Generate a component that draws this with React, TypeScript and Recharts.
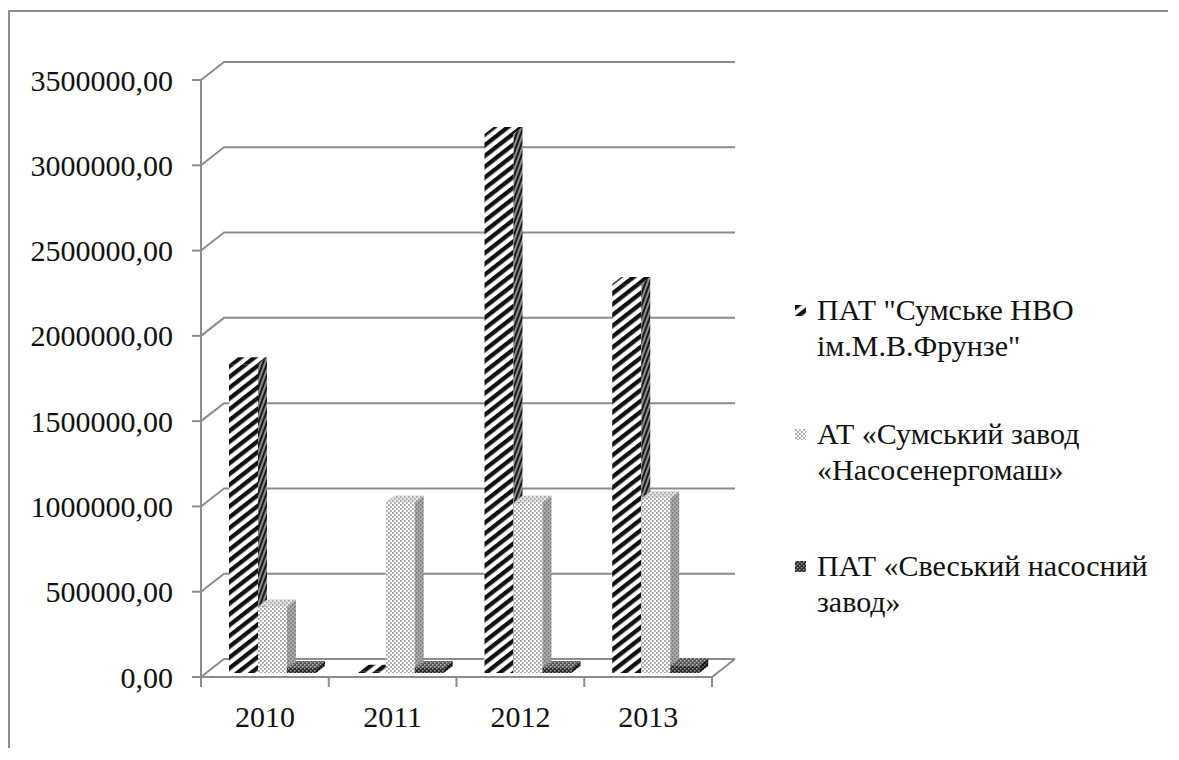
import React from 'react';
import { BarChart, Bar, XAxis, YAxis, Legend, CartesianGrid } from 'recharts';

// ---------- data ----------
const CATEGORIES = ['2010', '2011', '2012', '2013'];
const SERIES_KEYS = ['s1', 's2', 's3'];
const SERIES_NAMES = [
  'ПАТ "Сумське НВО ім.М.В.Фрунзе"',
  'АТ «Сумський завод «Насосенергомаш»',
  'ПАТ «Свеський насосний завод»',
];
const FRUNZE = [1810000, 8000, 3160000, 2280000];
const NASOS = [390000, 1000000, 1000000, 1025000];
const SVES = [30000, 30000, 30000, 45000];
const Y_TICKS = [0, 500000, 1000000, 1500000, 2000000, 2500000, 3000000, 3500000];

const data = CATEGORIES.map((year, i) => ({
  year,
  s1: FRUNZE[i],
  s2: NASOS[i],
  s3: SVES[i],
}));

// ---------- layout / style ----------
const W = 1160;
const H = 740;
const AX = 193; // front y-axis x
const PT = 72; // plot top
const PB = 669; // plot bottom
const PW = 511; // plot width
const DX = 23; // wall depth offset
const DY = 18;
const BDX = 9; // bar depth
const BDY = 7;
const SX = 8; // bar shift into depth
const SY = -4;
const GRID = '#8c8c8c';
const FONT = "'Liberation Serif', 'Times New Roman', Times, Tinos, 'DejaVu Serif', serif";
const AXIS_FS = 30;
const LEGEND_FS = 30;

const fmt = (v: number) => v.toFixed(2).replace('.', ',');

const PATTERNS = [
  { front: 'url(#hatch)', side: 'url(#hatchSide)', top: 'url(#hatch)' },
  { front: 'url(#dots)', side: 'url(#dotsSide)', top: 'url(#dotsTop)' },
  { front: 'url(#dark)', side: 'url(#darkSide)', top: 'url(#darkTop)' },
];

const makeShape = (p: { front: string; side: string; top: string }) => (props: any) => {
  const { x, y, width, height } = props;
  if (x == null || y == null) return null;
  const x0 = x + SX;
  const y0 = y + SY;
  const w = width;
  const h = Math.max(height, 0);
  return (
    <g>
      <rect x={x0} y={y0} width={w} height={h} fill={p.front} />
      <polygon
        points={`${x0 + w},${y0} ${x0 + w + BDX},${y0 - BDY} ${x0 + w + BDX},${y0 + h - BDY} ${x0 + w},${y0 + h}`}
        fill={p.side}
      />
      <polygon
        points={`${x0},${y0} ${x0 + w},${y0} ${x0 + w + BDX},${y0 - BDY} ${x0 + BDX},${y0 - BDY}`}
        fill={p.top}
      />
    </g>
  );
};

const GridLine = (props: any) => {
  const { x1, y1, x2 } = props;
  const isBottom = Math.abs(y1 - PB) < 1;
  return (
    <g>
      <polyline
        points={`${x1},${y1} ${x1 + DX},${y1 - DY} ${x2 + DX},${y1 - DY}`}
        fill="none"
        stroke={GRID}
        strokeWidth={2}
      />
      {isBottom && (
        <line x1={x2} y1={y1} x2={x2 + DX} y2={y1 - DY} stroke={GRID} strokeWidth={2} />
      )}
    </g>
  );
};

const YTick = (props: any) => {
  const { y, payload } = props;
  return (
    <g>
      <line x1={AX - 9} y1={y} x2={AX} y2={y} stroke={GRID} strokeWidth={2} />
      <text
        x={AX - 28}
        y={y}
        textAnchor="end"
        dominantBaseline="central"
        fontSize={AXIS_FS}
        fontFamily={FONT}
        fill="#111"
      >
        {fmt(payload.value)}
      </text>
    </g>
  );
};

const XTick = (props: any) => {
  const { x, payload, index } = props;
  const half = payload.offset || PW / 8;
  return (
    <g>
      {index === 0 && (
        <line x1={x - half} y1={PB} x2={x - half} y2={PB + 10} stroke={GRID} strokeWidth={2} />
      )}
      <line x1={x + half} y1={PB} x2={x + half} y2={PB + 10} stroke={GRID} strokeWidth={2} />
      <text
        x={x}
        y={PB + 39}
        textAnchor="middle"
        dominantBaseline="central"
        fontSize={AXIS_FS}
        fontFamily={FONT}
        fill="#111"
      >
        {payload.value}
      </text>
    </g>
  );
};

const renderLegend = (props: any) => {
  const payload = [...(props.payload || [])].sort(
    (a: any, b: any) => SERIES_KEYS.indexOf(a.dataKey) - SERIES_KEYS.indexOf(b.dataKey)
  );
  return (
    <div style={{ fontFamily: FONT, fontSize: LEGEND_FS, color: '#111', lineHeight: '36px' }}>
      {payload.map((entry: any, i: number) => {
        const k = SERIES_KEYS.indexOf(entry.dataKey);
        return (
          <div key={i} style={{ position: 'relative', paddingLeft: 22, marginBottom: i === 0 ? 52 : 60 }}>
            <svg width={11} height={11} style={{ position: 'absolute', left: 0, top: 13 }}>
              <rect width={11} height={11} fill={PATTERNS[k < 0 ? i : k].front} />
            </svg>
            {entry.value}
          </div>
        );
      })}
    </div>
  );
};

export default function App() {
  return (
    <div style={{ position: 'relative', width: W, height: H }}>
      <svg width={0} height={0} style={{ position: 'absolute' }}>
        <defs>
          <pattern id="hatch" patternUnits="userSpaceOnUse" width={10} height={8.5} patternTransform="rotate(-38)">
            <rect width={10} height={8.5} fill="#fff" />
            <rect width={10} height={4.3} fill="#111" />
          </pattern>
          <pattern id="hatchSide" patternUnits="userSpaceOnUse" width={6} height={4} patternTransform="rotate(-70)">
            <rect width={6} height={4} fill="#8a8a8a" />
            <rect width={6} height={2} fill="#1a1a1a" />
          </pattern>
          <pattern id="dots" patternUnits="userSpaceOnUse" width={4} height={4}>
            <rect width={4} height={4} fill="#fff" />
            <rect x={0} y={0} width={1.8} height={1.8} fill="#a0a0a0" />
            <rect x={2} y={2} width={1.8} height={1.8} fill="#a0a0a0" />
          </pattern>
          <pattern id="dotsSide" patternUnits="userSpaceOnUse" width={4} height={4}>
            <rect width={4} height={4} fill="#a9a9a9" />
            <rect x={0} y={0} width={1.6} height={1.6} fill="#7a7a7a" />
            <rect x={2} y={2} width={1.6} height={1.6} fill="#7a7a7a" />
          </pattern>
          <pattern id="dotsTop" patternUnits="userSpaceOnUse" width={4} height={4}>
            <rect width={4} height={4} fill="#e2e2e2" />
            <rect x={0} y={0} width={1.6} height={1.6} fill="#a0a0a0" />
            <rect x={2} y={2} width={1.6} height={1.6} fill="#a0a0a0" />
          </pattern>
          <pattern id="dark" patternUnits="userSpaceOnUse" width={4} height={4}>
            <rect width={4} height={4} fill="#2a2a2a" />
            <rect x={0} y={0} width={1.5} height={1.5} fill="#a0a0a0" />
            <rect x={2} y={2} width={1.5} height={1.5} fill="#a0a0a0" />
          </pattern>
          <pattern id="darkSide" patternUnits="userSpaceOnUse" width={4} height={4}>
            <rect width={4} height={4} fill="#151515" />
            <rect x={0} y={0} width={1.5} height={1.5} fill="#666" />
            <rect x={2} y={2} width={1.5} height={1.5} fill="#666" />
          </pattern>
          <pattern id="darkTop" patternUnits="userSpaceOnUse" width={4} height={4}>
            <rect width={4} height={4} fill="#555" />
            <rect x={0} y={0} width={1.5} height={1.5} fill="#bbb" />
            <rect x={2} y={2} width={1.5} height={1.5} fill="#bbb" />
          </pattern>
        </defs>
      </svg>
      <BarChart
        width={W}
        height={H}
        data={data}
        margin={{ top: PT, right: W - AX - PW, bottom: H - PB - 40, left: 0 }}
        barGap={0}
        barSize={29}
      >
        <CartesianGrid vertical={false} horizontal={GridLine} />
        <XAxis
          dataKey="year"
          height={40}
          interval={0}
          axisLine={{ stroke: GRID, strokeWidth: 2 }}
          tickLine={false}
          tick={XTick}
        />
        <YAxis
          type="number"
          width={AX}
          domain={[0, 3500000]}
          ticks={Y_TICKS}
          interval={0}
          axisLine={{ stroke: GRID, strokeWidth: 2 }}
          tickLine={false}
          tick={YTick}
        />
        <Bar dataKey="s1" name={SERIES_NAMES[0]} fill="#111" isAnimationActive={false} shape={makeShape(PATTERNS[0])} />
        <Bar dataKey="s2" name={SERIES_NAMES[1]} fill="#aaa" isAnimationActive={false} shape={makeShape(PATTERNS[1])} />
        <Bar dataKey="s3" name={SERIES_NAMES[2]} fill="#333" isAnimationActive={false} shape={makeShape(PATTERNS[2])} />
        <Legend
          layout="vertical"
          align="center"
          verticalAlign="middle"
          content={renderLegend}
          wrapperStyle={{ left: 787, top: 284, width: 360, right: 'auto', bottom: 'auto' }}
        />
      </BarChart>
      <div
        style={{
          position: 'absolute',
          left: 0,
          top: 2,
          width: W,
          height: H - 2,
          borderLeft: `2px solid ${GRID}`,
          borderTop: `2px solid ${GRID}`,
          boxSizing: 'border-box',
          pointerEvents: 'none',
        }}
      />
    </div>
  );
}
